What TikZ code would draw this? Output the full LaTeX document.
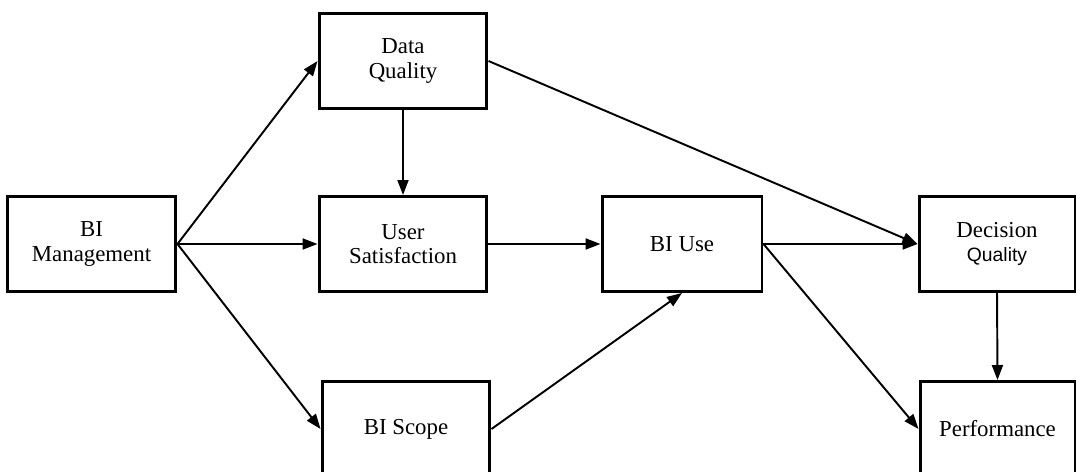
\documentclass[tikz,border=0pt]{standalone}
\usepackage{fontspec}
\setmainfont{Liberation Serif}
\setsansfont{Liberation Sans}
\usetikzlibrary{arrows.meta}
\tikzstyle{block}=[draw,line width=1.7pt,minimum height=1.9cm,align=center,font=\fontsize{13}{14}\selectfont]

\begin{document}
\begin{tikzpicture}[x=0.02cm, y=-0.02cm, line width=1.1pt, >={Triangle[length=0.3cm,width=0.22cm]}]
\useasboundingbox (0,0) rectangle (1077,472);
\node[block, minimum width=3.38cm] at (91.5, 244) (mgmt) {BI\\Management};
\node[block, minimum width=3.36cm] at (403, 61) (dq) {Data\\Quality};
\node[block, minimum width=3.36cm] at (403, 244) (us) {User\\Satisfaction};
\node[block, minimum width=3.36cm] at (406, 429) (scope) {BI Scope};
\node[block, minimum width=3.2cm] at (682, 244) (use) {BI Use};
\node[block, minimum width=3.12cm] at (997, 244) (decq) {Decision\\{\sffamily\fontsize{11}{14}\selectfont Quality}};
\node[block, minimum width=3.1cm] at (997.5, 429) (perf) {Performance};
\draw[->] (mgmt.east) -- (dq.west);
\draw[->] (mgmt.east) -- (us.west);
\draw[->] (mgmt.east) -- (scope.west);
\draw[->] (dq.south) -- (us.north);
\draw[->] (dq.east) -- (decq.west);
\draw[->] (us.east) -- (use.west);
\draw[->] (scope.east) -- (use.south);
\draw[->] (use.east) -- (decq.west);
\draw[->] (use.east) -- (perf.west);
\draw[->] (decq.south) -- (perf.north);
\end{tikzpicture}
\end{document}
